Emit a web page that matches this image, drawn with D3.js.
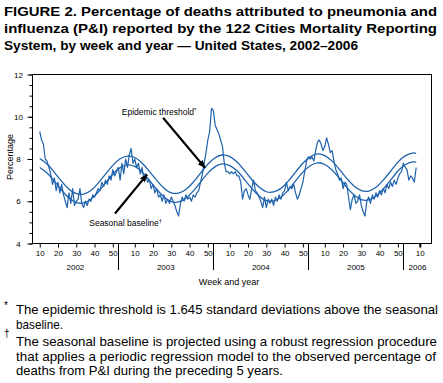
<!DOCTYPE html>
<html><head><meta charset="utf-8">
<script src="https://cdn.jsdelivr.net/npm/d3@7"></script>
<style>
body{margin:0;background:#fff;}
svg{display:block;font-family:"Liberation Sans",Arial,Helvetica,sans-serif;}
</style>
</head><body>
<svg id="c" width="443" height="383"></svg>
<script>
// ---------- data ----------
const titleLines = [
  "FIGURE 2. Percentage of deaths attributed to pneumonia and",
  "influenza (P&I) reported by the 122 Cities Mortality Reporting",
  "System, by week and year \u2014 United States, 2002\u20132006"
];
const footnote1 = ["The epidemic threshold is 1.645 standard deviations above the seasonal", "baseline."];
const footnote2 = ["The seasonal baseline is projected using a robust regression procedure",
  "that applies a periodic regression model to the observed percentage of",
  "deaths from P&I during the preceding 5 years."];
const yTicks = [4, 6, 8, 10, 12];
const weekTicks = [10, 20, 30, 40, 50];
const years = [2002, 2003, 2004, 2005, 2006];
const yearStartWeekIndex = [0, 52, 104, 156, 208];   // running week index of week 1 of each year
const firstObservedIndex = 9;                       // 2002 week 10
// observed weekly % of deaths from P&I, 2002 wk10 .. 2006 wk8
const observed = [
  9.3, 8.9, 8.7, 8.0, 7.9, 7.6, 7.3, 6.8, 7.1, 6.5,
  6.9, 6.4, 6.8, 6.3, 6.0, 5.7, 6.4, 5.9, 6.6, 5.8,
  6.0, 6.1, 6.6, 5.9, 5.7, 6.0, 5.8, 6.1, 6.0, 6.3,
  6.2, 6.4, 6.6, 6.5, 6.9, 6.7, 7.0, 6.8, 7.2, 7.0,
  7.5, 7.2, 7.4,
  7.6, 7.0, 7.8, 7.3, 8.0, 7.6, 8.2, 8.5, 7.8, 8.0,
  7.6, 7.8, 7.3, 7.6, 7.0, 7.3, 6.9, 7.0, 6.6, 6.8,
  6.4, 6.6, 6.2, 6.3, 6.0, 6.3, 5.9, 6.1, 5.9, 6.2,
  6.0, 5.8, 5.5, 5.3, 5.9, 6.2, 6.0, 6.3, 6.1, 6.2,
  6.0, 6.3, 6.2, 6.4, 6.5, 6.9, 7.3, 7.8, 8.3, 8.9,
  9.3, 10.4,
  10.3, 9.6, 9.4, 9.2, 8.9, 8.6, 7.8, 7.4, 7.4, 7.3,
  7.4, 7.3, 7.4, 7.2, 7.2, 6.9, 6.1, 6.5, 6.6, 6.3,
  6.1, 6.6, 7.0, 6.5, 6.4, 6.2, 6.0, 5.7, 6.2, 5.7,
  6.1, 5.9, 6.1, 5.8, 6.2, 6.0, 6.3, 6.1, 6.4, 6.5,
  6.9, 6.5, 6.7, 6.6, 6.8, 6.4, 6.1, 6.3, 6.6, 6.9,
  7.4, 7.9, 8.1, 8.0, 8.1, 7.9, 8.4, 8.8, 8.9, 8.7,
  8.4, 8.6, 9.0, 8.7, 8.3, 8.4, 7.9, 7.5, 7.3, 7.0,
  7.1, 6.6, 6.9, 6.8, 6.2, 5.6, 6.1, 6.3, 5.9, 6.0,
  6.3, 5.8, 5.5, 5.3, 6.0, 6.2, 5.9, 6.3, 6.1, 6.4,
  6.2, 6.5, 6.3, 6.6, 6.4, 6.8, 6.6, 6.9, 6.7, 7.0,
  6.8, 7.1, 7.3, 7.4, 7.8, 7.6, 7.5, 7.0, 7.2, 7.1,
  6.9, 7.6
];
// running week index of the baseline / threshold samples
const curveWeekIndex = [9,13,17,21,25,29,33,37,41,45,49,53,57,61,65,69,73,77,81,85,89,93,97,101,
  105,109,113,117,121,125,129,133,137,141,145,149,153,157,161,165,169,173,177,181,185,189,193,197,
  201,205,209,213,215];
const baseline = [7.60,7.34,6.95,6.52,6.15,5.94,5.92,6.09,6.44,6.86,7.28,7.59,7.72,7.65,7.39,6.99,
  6.57,6.20,5.98,5.97,6.14,6.48,6.91,7.33,7.64,7.77,7.69,7.44,7.04,6.61,6.25,6.03,6.02,6.19,6.53,
  6.96,7.38,7.68,7.82,7.74,7.48,7.09,6.66,6.30,6.08,6.06,6.24,6.58,7.00,7.43,7.73,7.86,7.85];
const threshold = [8.02,7.76,7.37,6.94,6.57,6.36,6.34,6.51,6.86,7.28,7.70,8.01,8.14,8.07,7.81,7.41,
  6.99,6.62,6.40,6.39,6.56,6.90,7.33,7.75,8.06,8.19,8.11,7.86,7.46,7.03,6.67,6.45,6.44,6.61,6.95,
  7.38,7.80,8.10,8.24,8.16,7.90,7.51,7.08,6.72,6.50,6.48,6.66,7.00,7.42,7.85,8.15,8.28,8.27];

// ---------- drawing ----------
const svg = d3.select("#c");
const blue = "#1f63ad";
const L = 32.5, R = 431.5, T = 74.5, B = 243.5;
const x = d3.scaleLinear().domain([5.04, 223.4]).range([L, R]);
const y = d3.scaleLinear().domain([4, 12]).range([B, T]);

// title
svg.append("g").selectAll("text").data(titleLines).join("text")
  .attr("x", 4).attr("y", (d, i) => 16 + i * 17)
  .attr("font-size", 13.5).attr("font-weight", "bold").attr("fill", "#000")
  .attr("textLength", (d, i) => [433, 433, 354][i]).attr("lengthAdjust", "spacingAndGlyphs")
  .text(d => d);

// frame
svg.append("rect").attr("x", L).attr("y", T).attr("width", R - L).attr("height", B - T)
  .attr("fill", "none").attr("stroke", "#000").attr("stroke-width", 1);

// y axis major + minor
const yAx = svg.append("g").attr("transform", `translate(${L},0)`)
  .call(d3.axisLeft(y).tickValues(d3.range(4, 12.01, 0.5)).tickSize(3).tickFormat(""));
yAx.select(".domain").remove();
const yAx2 = svg.append("g").attr("transform", `translate(${L},0)`)
  .call(d3.axisLeft(y).tickValues(yTicks).tickSize(5).tickFormat(d3.format("d")));
yAx2.select(".domain").remove();
yAx2.selectAll("text").attr("x", -14).attr("text-anchor", "middle")
  .attr("font-size", 8).attr("font-family", '"Liberation Sans",Arial,sans-serif');

svg.append("text").attr("transform", "translate(12.5,157) rotate(-90)")
  .attr("text-anchor", "middle").attr("font-size", 9).text("Percentage");

// x axis
const xTickIdx = [], xTickLab = [];
years.forEach((yr, i) => {
  const wks = yr === 2006 ? [10] : weekTicks;
  wks.forEach(w => { xTickIdx.push(yearStartWeekIndex[i] + w - 1); xTickLab.push(String(w)); });
});
const xAx = svg.append("g").attr("transform", `translate(0,${B})`)
  .call(d3.axisBottom(x).tickValues(xTickIdx).tickSize(4).tickFormat((d, i) => xTickLab[i]));
xAx.select(".domain").remove();
xAx.selectAll("text").attr("font-size", 8).attr("font-family", '"Liberation Sans",Arial,sans-serif');
xAx.selectAll(".tick").filter((d, i) => xTickLab[i] === "10" && i === xTickIdx.length - 1)
  .select("line").attr("stroke-width", 2);

// year separators + labels
years.forEach((yr, i) => {
  const xs = x(yearStartWeekIndex[i]);
  if (xs > L + 1) {
    svg.append("line").attr("x1", Math.round(xs) + 0.5).attr("x2", Math.round(xs) + 0.5)
      .attr("y1", B).attr("y2", 270).attr("stroke", "#000").attr("stroke-width", 1);
  }
  const a = Math.max(L, xs);
  const b = i < years.length - 1 ? Math.min(R, x(yearStartWeekIndex[i + 1])) : R;
  svg.append("text").attr("x", (a + b) / 2).attr("y", 270).attr("text-anchor", "middle")
    .attr("font-size", 8).text(yr);
});
svg.append("text").attr("x", 229).attr("y", 284.5).attr("text-anchor", "middle")
  .attr("font-size", 9).text("Week and year");

// series
const obsPts = observed.map((v, i) => ({ t: firstObservedIndex + i, v }));
const basePts = baseline.map((v, i) => ({ t: curveWeekIndex[i], v }));
const thrPts = threshold.map((v, i) => ({ t: curveWeekIndex[i], v }));
const smooth = d3.line().x(d => x(d.t)).y(d => y(d.v)).curve(d3.curveNatural);
const jag = d3.line().x(d => x(d.t)).y(d => y(d.v));
svg.append("path").attr("d", smooth(basePts)).attr("fill", "none").attr("stroke", blue).attr("stroke-width", 1.3);
svg.append("path").attr("d", smooth(thrPts)).attr("fill", "none").attr("stroke", blue).attr("stroke-width", 1.3);
svg.append("path").attr("d", jag(obsPts)).attr("fill", "none").attr("stroke", blue)
  .attr("stroke-width", 1.2).attr("stroke-linejoin", "round");

// annotations
const defs = svg.append("defs");
defs.append("marker").attr("id", "ah").attr("viewBox", "0 0 10 10").attr("refX", 9).attr("refY", 5)
  .attr("markerUnits", "userSpaceOnUse").attr("markerWidth", 8).attr("markerHeight", 8)
  .attr("orient", "auto").append("path").attr("d", "M0,1 L10,5 L0,9 z").attr("fill", "#000");
function arrow(t0, v0, t1, v1) {
  svg.append("line").attr("x1", x(t0)).attr("y1", y(v0)).attr("x2", x(t1)).attr("y2", y(v1))
    .attr("stroke", "#000").attr("stroke-width", 2.2).attr("marker-end", "url(#ah)");
}
arrow(76.5, 9.95, 99.4, 7.59);
arrow(50.2, 5.42, 67.7, 7.26);
const t1 = svg.append("text").attr("x", x(53.9)).attr("y", y(10.09)).attr("font-size", 8.5);
t1.append("tspan").text("Epidemic threshold");
t1.append("tspan").attr("font-size", 6).attr("dy", -3).text("*");
const t2 = svg.append("text").attr("x", x(36.1)).attr("y", y(4.83)).attr("font-size", 8.5);
t2.append("tspan").text("Seasonal baseline");
t2.append("tspan").attr("font-size", 6).attr("dy", -3).text("\u2020");

// footnotes
svg.append("text").attr("x", 4).attr("y", 309).attr("font-size", 10).text("*");
svg.append("text").attr("x", 4).attr("y", 337).attr("font-size", 10).text("\u2020");
const fnLines = footnote1.concat(footnote2);
const fnY = [314, 328.5, 346, 360.5, 375];
const fnW = [422, 47, 421, 420, 267];
svg.append("g").selectAll("text").data(fnLines).join("text")
  .attr("x", 16).attr("y", (d, i) => fnY[i]).attr("font-size", 13)
  .attr("textLength", (d, i) => fnW[i]).attr("lengthAdjust", "spacingAndGlyphs")
  .text(d => d);
</script>
</body></html>
